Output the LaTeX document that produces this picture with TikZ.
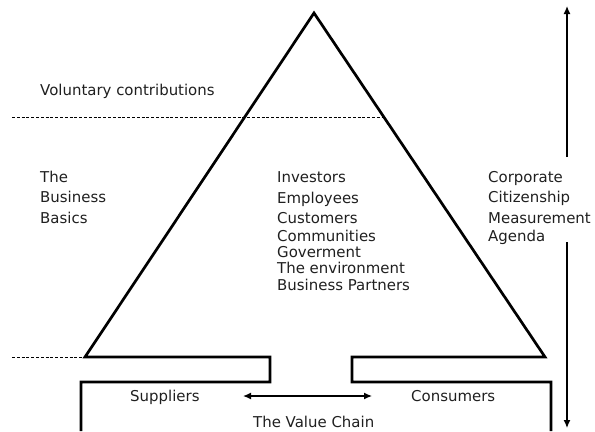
\documentclass[tikz,border=0pt]{standalone}
\usepackage{fontspec}
\setmainfont{DejaVu Sans}
\usetikzlibrary{arrows.meta}
\begin{document}
\begin{tikzpicture}[x=1bp,y=-1bp,
  lbl/.style={anchor=base west,inner sep=0pt,font=\fontsize{15}{17}\selectfont,text=black!88},
  frame/.style={line width=2.7bp,line join=miter,line cap=butt},
  dotline/.style={line width=1bp,dash pattern=on 3bp off 1.8bp},
  arr/.style={line width=1.3bp,-{Latex[length=8bp,width=7bp]}},
  darr/.style={line width=1.3bp,{Latex[length=8bp,width=7bp]}-{Latex[length=8bp,width=7bp]}}]
\useasboundingbox (0,0) rectangle (595,431);
% key points
\coordinate (apex) at (314,13);
\coordinate (bl) at (85,357);
\coordinate (br) at (545,357);
\coordinate (ls1) at (270,357);
\coordinate (ls2) at (270,382);
\coordinate (ls3) at (81,382);
\coordinate (ls4) at (81,431);
\coordinate (rs1) at (352,357);
\coordinate (rs2) at (352,382);
\coordinate (rs3) at (551,382);
\coordinate (rs4) at (551,431);
% pyramid and chain frame
\draw[frame] (ls4) -- (ls3) -- (ls2) -- (ls1) -- (bl) -- (apex) -- (br) -- (rs1) -- (rs2) -- (rs3) -- (rs4);
% dotted lines
\coordinate (d1a) at (12,117);
\coordinate (d1b) at (383.8,117);
\coordinate (d2a) at (12,357);
\draw[dotline] (d1a) -- (d1b);
\draw[dotline] (d2a) -- (bl);
% right arrows
\coordinate (up0) at (567,157);
\coordinate (up1) at (567,6);
\coordinate (dn0) at (567,242);
\coordinate (dn1) at (567,428);
\draw[arr] (up0) -- (up1);
\draw[arr] (dn0) -- (dn1);
% value chain arrow
\coordinate (va) at (243,396);
\coordinate (vb) at (372,396);
\draw[darr] (va) -- (vb);
% texts
\node[lbl] (vol) at (40,95.7) {Voluntary contributions};
\node[lbl] (l1) at (40,182.7) {The};
\node[lbl] (l2) at (40,202.7) {Business};
\node[lbl] (l3) at (40,223) {Basics};
\node[lbl] (c1) at (277,182.7) {Investors};
\node[lbl] (c2) at (277,203.3) {Employees};
\node[lbl] (c3) at (277,223) {Customers};
\node[lbl] (c4) at (277,241) {Communities};
\node[lbl] (c5) at (277,257) {Goverment};
\node[lbl] (c6) at (277,273.5) {The environment};
\node[lbl] (c7) at (277,290) {Business Partners};
\node[lbl] (r1) at (488,182.7) {Corporate};
\node[lbl] (r2) at (488,202.7) {Citizenship};
\node[lbl] (r3) at (488,223) {Measurement};
\node[lbl] (r4) at (488,241.7) {Agenda};
\node[lbl] (sup) at (130,401) {Suppliers};
\node[lbl] (con) at (411,401) {Consumers};
\node[lbl] (vc) at (253,427) {The Value Chain};
\end{tikzpicture}
\end{document}
